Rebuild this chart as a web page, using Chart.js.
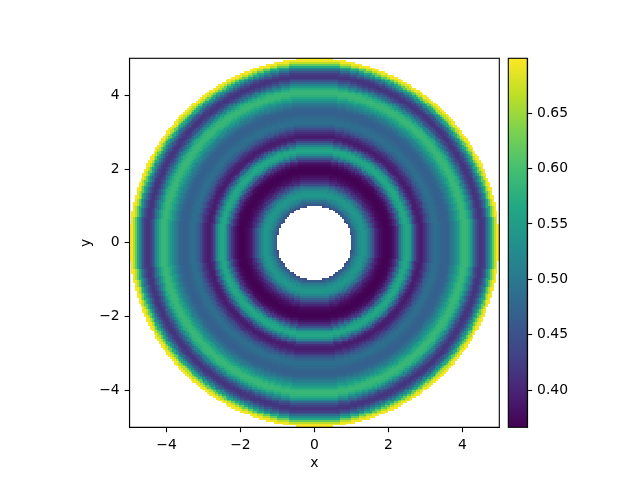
<!DOCTYPE html>
<html>
<head>
<meta charset="utf-8">
<script src="https://cdn.jsdelivr.net/npm/chart.js@4"></script>
<style>
html,body{margin:0;padding:0;background:#fff;}
canvas{position:absolute;left:0;top:0;}
</style>
</head>
<body>
<canvas id="ring" width="640" height="480"></canvas>
<canvas id="bar" width="640" height="480"></canvas>
<script>
// radial profile, r = 1.00 to 5.00
const radii = [
1.00,1.05,1.10,1.15,1.20,1.25,1.30,1.35,1.40,1.45,
1.50,1.55,1.60,1.65,1.70,1.75,1.80,1.85,1.90,1.95,
2.00,2.05,2.10,2.15,2.20,2.25,2.30,2.35,2.40,2.45,
2.50,2.55,2.60,2.65,2.70,2.75,2.80,2.85,2.90,2.95,
3.00,3.05,3.10,3.15,3.20,3.25,3.30,3.35,3.40,3.45,
3.50,3.55,3.60,3.65,3.70,3.75,3.80,3.85,3.90,3.95,
4.00,4.05,4.10,4.15,4.20,4.25,4.30,4.35,4.40,4.45,
4.50,4.55,4.60,4.65,4.70,4.75,4.80,4.85,4.90,4.95,
5.00];
const profile = [
.440,.460,.480,.500,.518,.532,.540,.542,.535,.520,
.498,.472,.445,.422,.403,.390,.380,.373,.369,.367,
.367,.369,.374,.383,.398,.420,.450,.490,.530,.555,
.566,.564,.548,.515,.475,.438,.410,.396,.392,.398,
.410,.426,.444,.461,.475,.484,.487,.485,.480,.474,
.470,.468,.469,.475,.485,.498,.510,.526,.545,.565,
.580,.587,.588,.584,.570,.545,.515,.482,.452,.430,
.418,.417,.428,.452,.485,.525,.568,.620,.665,.693,
.698];

const xTicks = [-4,-2,0,2,4];
const yTicks = [-4,-2,0,2,4];
const barTicks = [0.40,0.45,0.50,0.55,0.60,0.65];
const barMin = 0.3665;
const barMax = 0.6995;
const viridis = [
[68,1,84],[72,36,117],[65,68,135],[53,95,141],[42,120,142],
[33,145,140],[34,168,132],[68,191,112],[122,209,81],[189,223,38],[253,231,37]];

const black = "#000";
const fontSpec = {family:"'DejaVu Sans'", size:13.9};
const cellSize = 0.05;

function colorFor(v){
  let t = (v-barMin)/(barMax-barMin);
  t = Math.min(1,Math.max(0,t))*(viridis.length-1);
  const i = Math.min(viridis.length-2,Math.floor(t));
  const f = t-i;
  const c = viridis[i].map((a,k)=>Math.round(a+(viridis[i+1][k]-a)*f));
  return "rgb("+c.join(",")+")";
}

function nearestProfile(r){
  const i = Math.round((r-radii[0])/(radii[1]-radii[0]));
  return profile[Math.min(profile.length-1,Math.max(0,i))];
}

// 200 x 200 mesh, only cells inside the ring are kept
const cells = [];
const cellColors = [];
for(let i=0;i<200;i++){
  for(let j=0;j<200;j++){
    const x = -4.975+i*cellSize;
    const y = -4.975+j*cellSize;
    const r = Math.sqrt(x*x+y*y);
    if(r<1 || r>5) continue;
    cells.push({x:x,y:y});
    cellColors.push(colorFor(nearestProfile(r)));
  }
}

// paints the mesh cells from the dataset through the scales
const mesh = {
  id:"mesh",
  afterDatasetsDraw(chart){
    const sx = chart.scales.x;
    const sy = chart.scales.y;
    const ctx = chart.ctx;
    ctx.save();
    cells.forEach((c,i)=>{
      const x0 = Math.round(sx.getPixelForValue(c.x-cellSize/2));
      const x1 = Math.round(sx.getPixelForValue(c.x+cellSize/2));
      const y0 = Math.round(sy.getPixelForValue(c.y+cellSize/2));
      const y1 = Math.round(sy.getPixelForValue(c.y-cellSize/2));
      ctx.fillStyle = cellColors[i];
      ctx.fillRect(x0,y0,x1-x0,y1-y0);
    });
    ctx.restore();
  }
};

const frame = {
  id:"frame",
  afterDraw(chart){
    const a = chart.chartArea;
    const ctx = chart.ctx;
    ctx.save();
    ctx.strokeStyle = black;
    ctx.lineWidth = 1.1;
    ctx.strokeRect(a.left,a.top,a.right-a.left,a.bottom-a.top);
    ctx.restore();
  }
};

function minus(v){
  return String(v).replace("-","\u2212");
}

function axisOptions(ticks,position,title,size){
  return {
    type:"linear",
    position:position,
    min:-5,
    max:5,
    afterBuildTicks(s){ s.ticks = ticks.map(v=>({value:v})); },
    afterFit(s){
      if(position=="left") s.width = size; else s.height = size;
    },
    grid:{drawOnChartArea:false,drawTicks:true,tickLength:4.9,tickColor:black,tickWidth:1.1},
    border:{display:true,color:black,width:1.1},
    ticks:{
      color:black,
      font:fontSpec,
      padding:4.9,
      maxRotation:0,
      autoSkip:false,
      callback:v=>minus(v)
    },
    title:{display:true,text:title,color:black,font:fontSpec,padding:{top:0,bottom:0}}
  };
}

new Chart(document.getElementById("ring"),{
  type:"scatter",
  data:{
    datasets:[{
      data:cells,
      pointRadius:0
    }]
  },
  options:{
    responsive:false,
    animation:false,
    devicePixelRatio:1,
    events:[],
    layout:{padding:{left:78.5,top:58.3,right:140.7,bottom:8.7}},
    plugins:{legend:{display:false},tooltip:{enabled:false}},
    scales:{
      x:axisOptions(xTicks,"bottom","x",44),
      y:axisOptions(yTicks,"left","y",51)
    }
  },
  plugins:[mesh,frame]
});

new Chart(document.getElementById("bar"),{
  type:"bar",
  data:{
    labels:[""],
    datasets:[{
      data:[[barMin,barMax]],
      barPercentage:1,
      categoryPercentage:1,
      borderWidth:0,
      backgroundColor:c=>{
        const a = c.chart.chartArea;
        if(!a) return viridis[0];
        const g = c.chart.ctx.createLinearGradient(0,a.bottom,0,a.top);
        viridis.forEach((v,i)=>g.addColorStop(i/(viridis.length-1),"rgb("+v.join(",")+")"));
        return g;
      }
    }]
  },
  options:{
    responsive:false,
    animation:false,
    devicePixelRatio:1,
    events:[],
    layout:{padding:{left:508.3,top:58.3,right:52.7,bottom:52.7}},
    plugins:{legend:{display:false},tooltip:{enabled:false}},
    scales:{
      x:{
        display:false,
        offset:true
      },
      y:{
        type:"linear",
        position:"right",
        min:barMin,
        max:barMax,
        afterBuildTicks(s){ s.ticks = barTicks.map(v=>({value:v})); },
        afterFit(s){ s.width = 60; },
        grid:{drawOnChartArea:false,drawTicks:true,tickLength:4.9,tickColor:black,tickWidth:1.1},
        border:{display:true,color:black,width:1.1},
        ticks:{color:black,font:fontSpec,padding:4.9,autoSkip:false,callback:v=>v.toFixed(2)}
      }
    }
  },
  plugins:[frame]
});
</script>
</body>
</html>
